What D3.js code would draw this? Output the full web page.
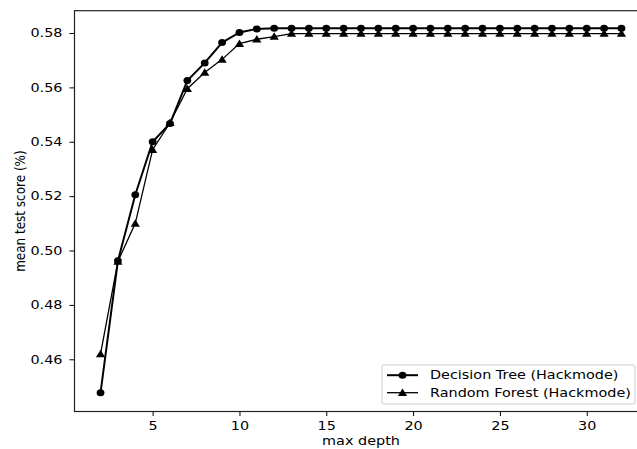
<!DOCTYPE html>
<html>
<head>
<meta charset="utf-8">
<script src="https://cdn.jsdelivr.net/npm/d3@7"></script>
<style>
  body { margin: 0; background: #fff; }
  svg text { font-family: "DejaVu Sans", sans-serif; fill: #000; }
</style>
</head>
<body>
<svg id="chart" width="637" height="449"></svg>
<script>
// max depth values on the x axis
var depths = [2, 3, 4, 5, 6, 7, 8, 9, 10, 11, 12, 13, 14, 15, 16, 17, 18, 19, 20, 21, 22, 23, 24, 25, 26, 27, 28, 29, 30, 31, 32];

// mean test score per depth
var decisionTree = [0.4477, 0.4962, 0.5205, 0.5400, 0.5467, 0.5625, 0.5690, 0.5765, 0.5802, 0.5815, 0.5817,
  0.5817, 0.5817, 0.5817, 0.5817, 0.5817, 0.5817, 0.5817, 0.5817, 0.5817, 0.5817,
  0.5817, 0.5817, 0.5817, 0.5817, 0.5817, 0.5817, 0.5817, 0.5817, 0.5817, 0.5817];
var randomForest = [0.4620, 0.4960, 0.5100, 0.5371, 0.5470, 0.5595, 0.5655, 0.5703, 0.5761, 0.5777, 0.5787,
  0.5798, 0.5798, 0.5798, 0.5798, 0.5798, 0.5798, 0.5798, 0.5798, 0.5798, 0.5798,
  0.5798, 0.5798, 0.5798, 0.5798, 0.5798, 0.5798, 0.5798, 0.5798, 0.5798, 0.5798];

var seriesNames = ["Decision Tree (Hackmode)", "Random Forest (Hackmode)"];
var xTicks = [5, 10, 15, 20, 25, 30];
var yTicks = [0.46, 0.48, 0.50, 0.52, 0.54, 0.56, 0.58];

var svg = d3.select("#chart");
var sx = 1.2; // the picture is a bit wider than tall, text too

var x = d3.scaleLinear().domain([0.5, 33.5]).range([74.5, 647.5]);
var y = d3.scaleLinear().domain([0.4408, 0.5882]).range([411.5, 10.7]);

function stretch(sel) {
  sel.each(function() {
    var t = d3.select(this);
    var tx = +t.attr("x") || 0, ty = +t.attr("y") || 0;
    t.attr("x", 0).attr("y", 0)
     .attr("transform", "translate(" + tx + "," + ty + ") scale(" + sx + ",1)");
  });
}

// axes
var gx = svg.append("g")
    .attr("transform", "translate(0," + y.range()[0] + ")")
    .call(d3.axisBottom(x).tickValues(xTicks).tickSize(4.5).tickPadding(5).tickSizeOuter(0));
var gy = svg.append("g")
    .attr("transform", "translate(" + x.range()[0] + ",0)")
    .call(d3.axisLeft(y).tickValues(yTicks).tickFormat(d3.format(".2f")).tickSize(5).tickPadding(7).tickSizeOuter(0));

[gx, gy].forEach(function(g) {
  g.select(".domain").remove();
  g.selectAll("line").attr("stroke", "#000").attr("stroke-width", 1);
  g.selectAll("text").style("font-size", "12px");
  stretch(g.selectAll("text"));
});

// spines
var frame = svg.append("g").attr("fill", "none").attr("stroke", "#222").attr("stroke-width", 1.2);
frame.append("rect")
    .attr("x", x.range()[0]).attr("y", y.range()[1])
    .attr("width", x.range()[1] - x.range()[0])
    .attr("height", y.range()[0] - y.range()[1]);

// axis labels
svg.append("text")
    .attr("text-anchor", "middle")
    .style("font-size", "12px")
    .attr("transform", "translate(" + ((x.range()[0] + x.range()[1]) / 2) + ",445) scale(" + sx + ",1)")
    .text("max depth");
svg.append("text")
    .attr("text-anchor", "middle")
    .style("font-size", "12px")
    .attr("transform", "translate(25," + ((y.range()[0] + y.range()[1]) / 2) + ") scale(" + sx + ",1) rotate(-90)")
    .text("mean test score (%)");

// series
var series = [
  { name: seriesNames[0], values: decisionTree, marker: "circle", width: 2 },
  { name: seriesNames[1], values: randomForest, marker: "triangle", width: 1.3 }
];

var line = d3.line()
    .x(function(d) { return x(d[0]); })
    .y(function(d) { return y(d[1]); });

function drawMarker(g, kind) {
  if (kind === "circle") {
    g.append("ellipse").attr("rx", 3.9).attr("ry", 3.5).attr("fill", "#000");
  } else {
    g.append("path").attr("d", "M0,-4.2L4.6,3.3L-4.6,3.3Z").attr("fill", "#000");
  }
}

series.forEach(function(s) {
  var pts = depths.map(function(d, i) { return [d, s.values[i]]; });
  svg.append("path")
      .datum(pts)
      .attr("fill", "none")
      .attr("stroke", "#000")
      .attr("stroke-width", s.width)
      .attr("d", line);
  svg.append("g").selectAll("g")
      .data(pts)
      .join("g")
      .attr("transform", function(d) { return "translate(" + x(d[0]) + "," + y(d[1]) + ")"; })
      .each(function() { drawMarker(d3.select(this), s.marker); });
});

// legend
var legend = svg.append("g");
legend.append("rect")
    .attr("x", 382).attr("y", 365)
    .attr("width", 253).attr("height", 39)
    .attr("rx", 2)
    .attr("fill", "#fff").attr("fill-opacity", 0.8)
    .attr("stroke", "#ccc").attr("stroke-width", 1);

series.forEach(function(s, i) {
  var cy = 375.2 + i * 17.5;
  var row = legend.append("g");
  row.append("line")
      .attr("x1", 387).attr("x2", 418).attr("y1", cy).attr("y2", cy)
      .attr("stroke", "#000").attr("stroke-width", s.width);
  drawMarker(row.append("g").attr("transform", "translate(402.5," + cy + ")"), s.marker);
  row.append("text")
      .attr("x", 430).attr("y", cy)
      .attr("dy", "0.35em")
      .style("font-size", "12px")
      .text(s.name);
  stretch(row.selectAll("text"));
});
</script>
</body>
</html>
